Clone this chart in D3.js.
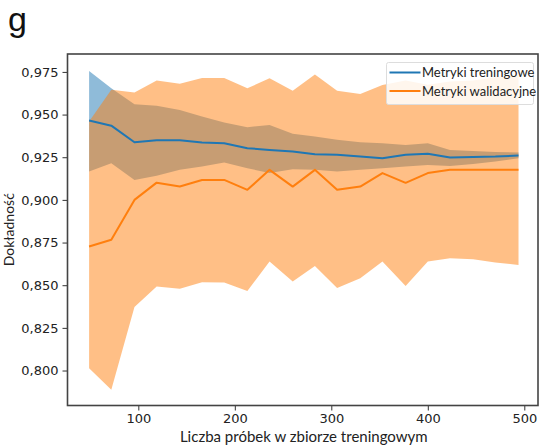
<!DOCTYPE html>
<html>
<head>
<meta charset="utf-8">
<script src="https://cdn.jsdelivr.net/npm/d3@7"></script>
<style>
  html, body { margin: 0; padding: 0; background: #fff; }
  svg { display: block; }
  .tick text { font-family: "DejaVu Sans", sans-serif; font-size: 13px; fill: #222; }
  .tick line { stroke: #333; }
  .label { font-family: Lato, "Open Sans", sans-serif; fill: #222; }
</style>
</head>
<body>
<svg id="chart" width="539" height="448"></svg>
<script>
// ── Data ─────────────────────────────────────────────────────────

const trainSizes = [49, 72, 96, 119, 143, 166, 189, 213, 236, 260,
                    283, 306, 330, 353, 377, 400, 423, 447, 470, 494];

const trainMean  = [0.9465, 0.9435, 0.9338, 0.9350, 0.9350, 0.9336, 0.9332, 0.9303, 0.9293, 0.9283,
                    0.9268, 0.9264, 0.9254, 0.9244, 0.9264, 0.9270, 0.9248, 0.9252, 0.9254, 0.9260];
const trainLow   = [0.9166, 0.9215, 0.9117, 0.9142, 0.9176, 0.9195, 0.9219, 0.9186, 0.9157, 0.9180,
                    0.9176, 0.9166, 0.9176, 0.9186, 0.9195, 0.9205, 0.9199, 0.9211, 0.9225, 0.9244];
const trainHigh  = [0.9755, 0.9654, 0.9560, 0.9552, 0.9527, 0.9488, 0.9453, 0.9426, 0.9439, 0.9387,
                    0.9371, 0.9352, 0.9338, 0.9332, 0.9322, 0.9332, 0.9293, 0.9287, 0.9280, 0.9278];

const validMean  = [0.8727, 0.8766, 0.9000, 0.9101, 0.9078, 0.9117, 0.9117, 0.9059, 0.9176, 0.9078,
                    0.9176, 0.9059, 0.9078, 0.9157, 0.9100, 0.9157, 0.9176, 0.9176, 0.9176, 0.9176];
const validLow   = [0.8014, 0.7887, 0.8372, 0.8492, 0.8479, 0.8518, 0.8516, 0.8466, 0.8639, 0.8522,
                    0.8613, 0.8483, 0.8541, 0.8639, 0.8496, 0.8639, 0.8658, 0.8652, 0.8633, 0.8619];
const validHigh  = [0.9460, 0.9645, 0.9630, 0.9700, 0.9680, 0.9715, 0.9715, 0.9654, 0.9713, 0.9640,
                    0.9735, 0.9639, 0.9620, 0.9674, 0.9700, 0.9675, 0.9694, 0.9700, 0.9719, 0.9733];

const xTicks = [100, 200, 300, 400, 500];
const yTicks = [0.800, 0.825, 0.850, 0.875, 0.900, 0.925, 0.950, 0.975];

const seriesNames = ['Metryki treningowe', 'Metryki walidacyjne'];
const seriesColors = ['#1f77b4', '#ff7f0e'];

// ── Layout ───────────────────────────────────────────────────────

const plot = { left: 67.5, right: 538, top: 54, bottom: 405.5 };

const svg = d3.select('#chart');

const x = d3.scaleLinear().domain([26.6, 514.2]).range([plot.left, plot.right]);
const y = d3.scaleLinear().domain([0.7795, 0.9855]).range([plot.bottom, plot.top]);

const fmt = d => d3.format('.3f')(d).replace('.', ',');

// ── Bands (training first, validation on top) ────────────────────

const bands = [
  { low: trainLow, high: trainHigh, color: seriesColors[0] },
  { low: validLow, high: validHigh, color: seriesColors[1] },
];

const area = d3.area()
  .x(d => x(d.x))
  .y0(d => y(d.lo))
  .y1(d => y(d.hi));

const plotArea = svg.append('g');

bands.forEach(b => {
  const pts = trainSizes.map((s, i) => ({ x: s, lo: b.low[i], hi: b.high[i] }));
  plotArea.append('path')
    .attr('d', area(pts))
    .attr('fill', b.color)
    .attr('fill-opacity', 0.5);
});

// ── Mean lines ───────────────────────────────────────────────────

const line = d3.line().x(d => x(d.x)).y(d => y(d.v));

[trainMean, validMean].forEach((vals, k) => {
  plotArea.append('path')
    .attr('d', line(trainSizes.map((s, i) => ({ x: s, v: vals[i] }))))
    .attr('fill', 'none')
    .attr('stroke', seriesColors[k])
    .attr('stroke-width', 2)
    .attr('stroke-linejoin', 'round');
});

// ── Axes ─────────────────────────────────────────────────────────

const xAxis = svg.append('g')
  .attr('transform', `translate(0,${plot.bottom})`)
  .call(d3.axisBottom(x).tickValues(xTicks).tickSize(5).tickPadding(3).tickFormat(d3.format('d')));

const yAxis = svg.append('g')
  .attr('transform', `translate(${plot.left},0)`)
  .call(d3.axisLeft(y).tickValues(yTicks).tickSize(5).tickPadding(4).tickFormat(fmt));

xAxis.select('.domain').remove();
yAxis.select('.domain').remove();

// frame
svg.append('rect')
  .attr('x', plot.left).attr('y', plot.top)
  .attr('width', plot.right - plot.left)
  .attr('height', plot.bottom - plot.top)
  .attr('fill', 'none')
  .attr('stroke', '#444')
  .attr('stroke-width', 1.6);

// ── Labels ───────────────────────────────────────────────────────

svg.append('text')
  .attr('class', 'label')
  .attr('x', (plot.left + plot.right) / 2 + 1)
  .attr('y', 441.5)
  .attr('text-anchor', 'middle')
  .attr('font-size', 15)
  .text('Liczba próbek w zbiorze treningowym');

svg.append('text')
  .attr('class', 'label')
  .attr('transform', `translate(14,${(plot.top + plot.bottom) / 2}) rotate(-90)`)
  .attr('text-anchor', 'middle')
  .attr('font-size', 14)
  .text('Dokładność');

svg.append('text')
  .attr('x', 8)
  .attr('y', 31)
  .attr('font-family', '"Liberation Sans", Arial, sans-serif')
  .attr('font-size', 34)
  .attr('fill', '#111')
  .text('g');

// ── Legend ───────────────────────────────────────────────────────

const legend = svg.append('g').attr('transform', 'translate(386.5,62.5)');

legend.append('rect')
  .attr('width', 147).attr('height', 42)
  .attr('rx', 2)
  .attr('fill', '#fff').attr('fill-opacity', 0.85)
  .attr('stroke', '#ddd');

seriesNames.forEach((name, i) => {
  const cy = 10 + i * 18.5;
  legend.append('line')
    .attr('x1', 3).attr('x2', 34)
    .attr('y1', cy).attr('y2', cy)
    .attr('stroke', seriesColors[i])
    .attr('stroke-width', 2);
  legend.append('text')
    .attr('class', 'label')
    .attr('x', 35.5).attr('y', cy + 4.5)
    .attr('font-size', 13)
    .text(name);
});
</script>
</body>
</html>
